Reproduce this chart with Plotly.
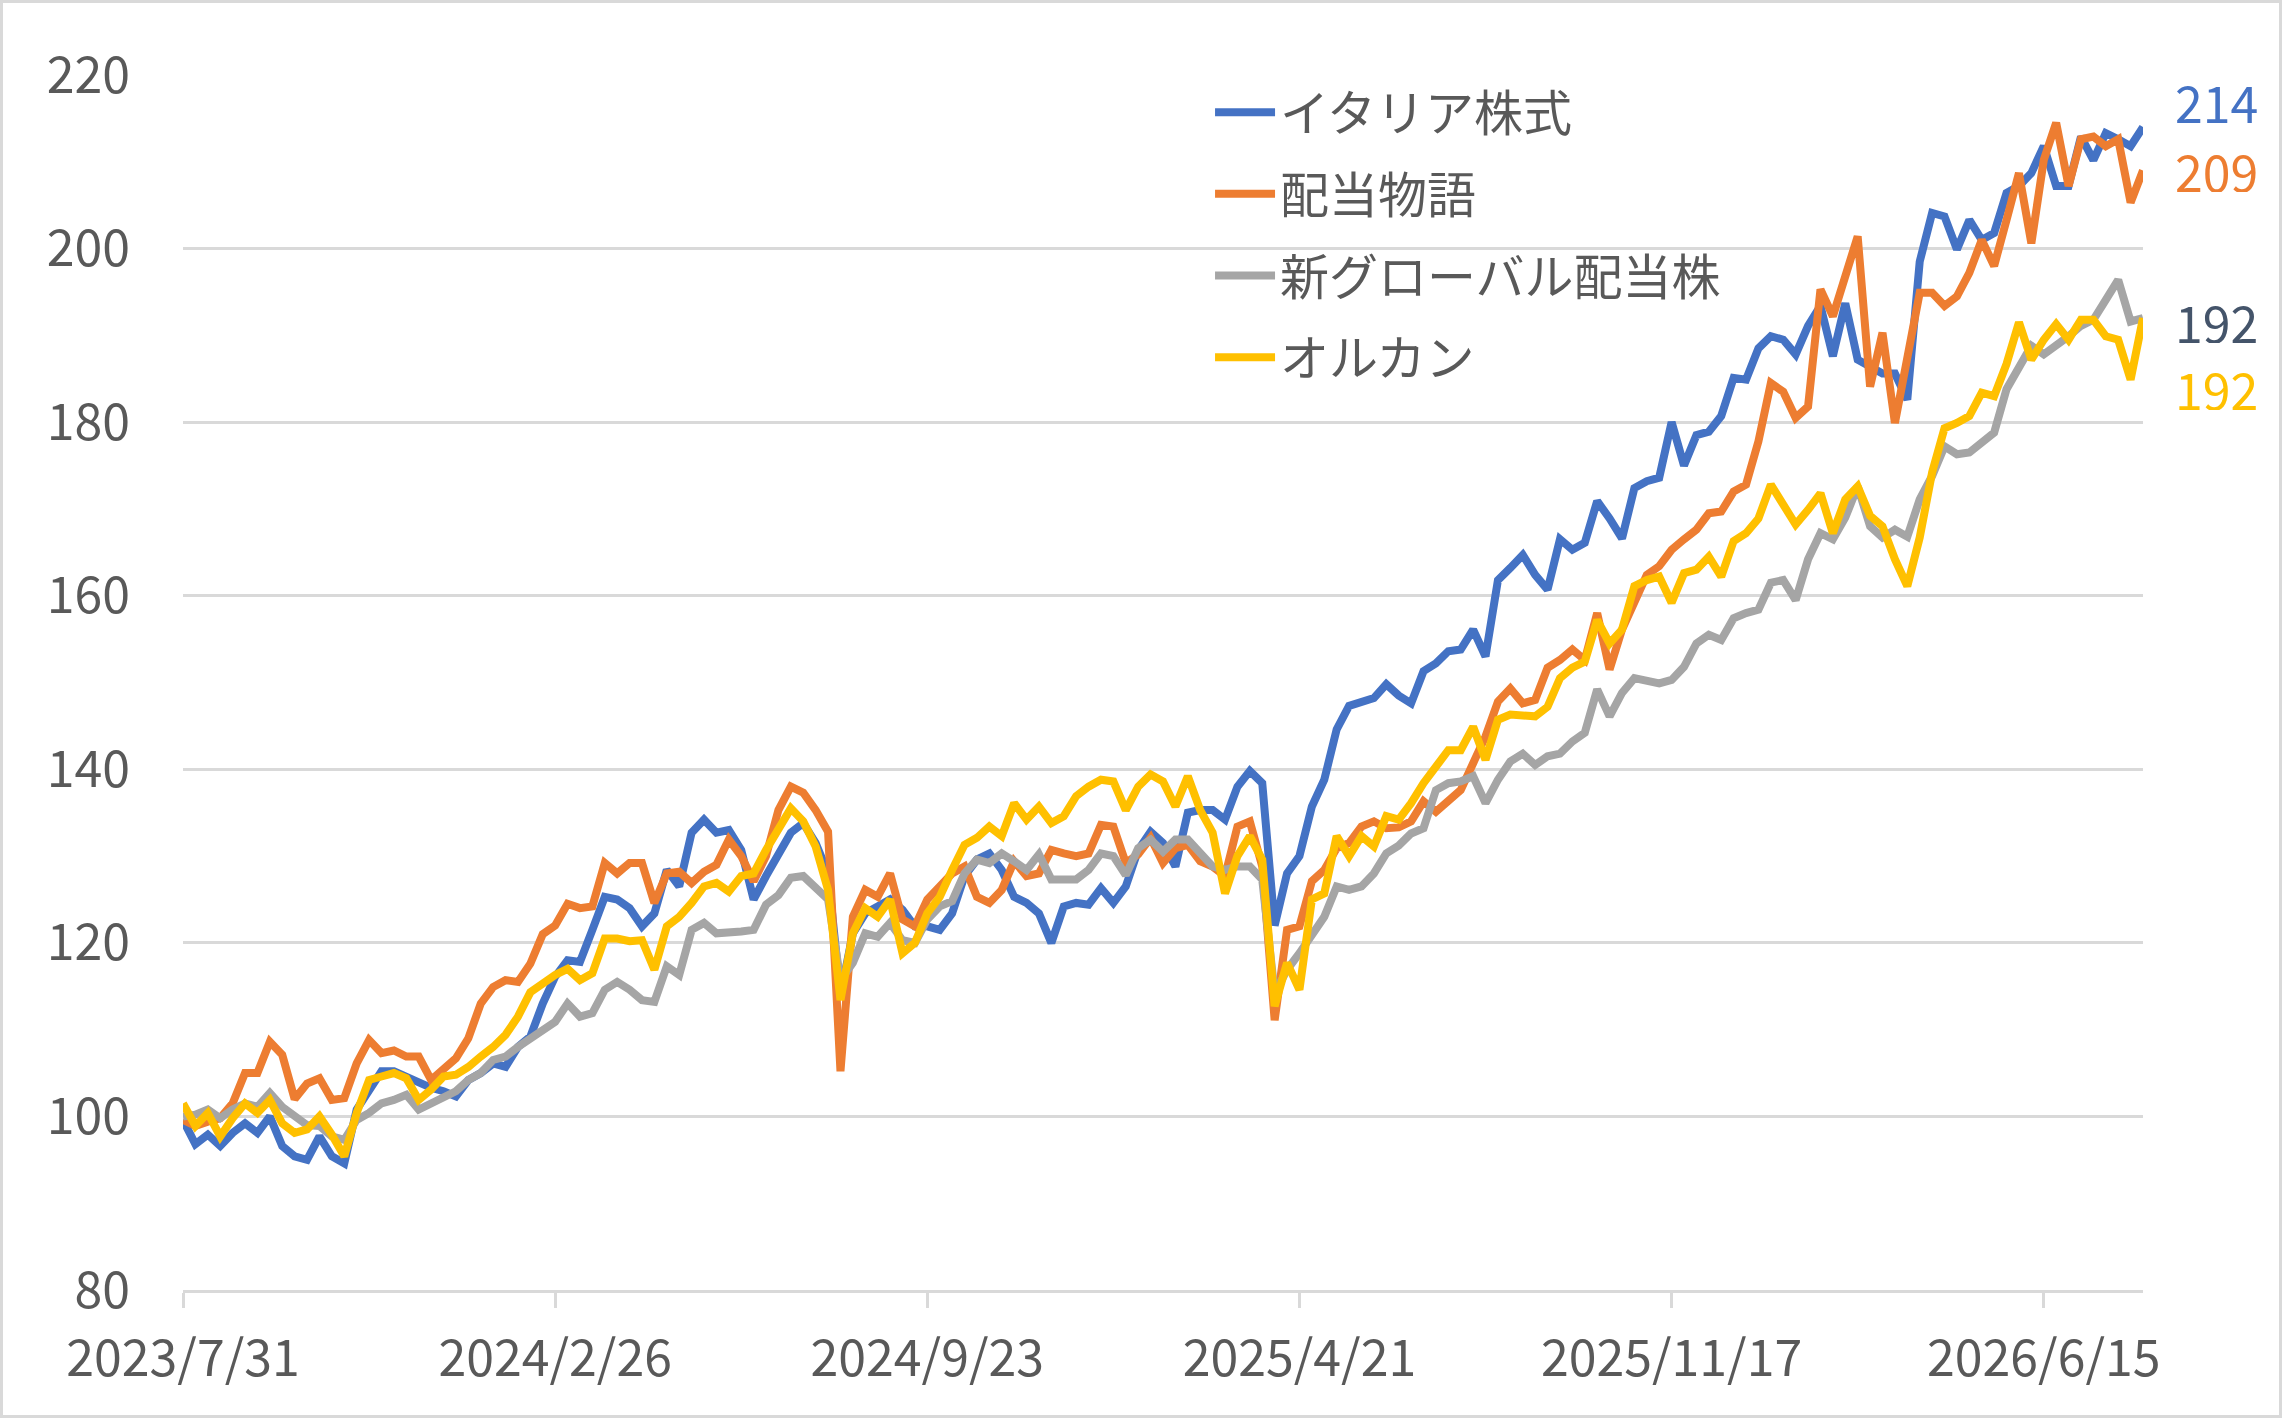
import pandas as pd
import plotly.graph_objects as go

# ---- data (weekly) ----
start_date = "2023-07-31"
n_weeks = 159
dates = pd.date_range(start=start_date, periods=n_weeks, freq="7D")

italy = [
    99.6, 96.8, 97.9, 96.6, 98.1, 99.2, 98.1, 100.0, 96.6, 95.4,
    95.0, 97.7, 95.4, 94.6, 100.8, 103.1, 105.2, 105.2, 104.6, 103.8,
    103.3, 102.9, 102.3, 104.2, 105.0, 106.1, 105.7, 108.0, 109.2, 113.0,
    116.1, 118.0, 117.8,
    121.5, 125.3, 125.0, 124.0, 121.9, 123.4, 128.4, 126.5, 132.7, 134.2,
    132.7, 133.0, 130.7, 125.0, 127.7, 130.0, 132.7, 133.8, 131.5, 128.0,
    114.0, 121.1, 123.4, 124.2, 125.0, 123.8, 121.9, 121.9, 121.5, 123.4, 127.7, 129.6,
    130.3, 128.4, 125.3, 124.6, 123.4, 120.0, 124.2, 124.6, 124.4, 126.3,
    124.6, 126.5, 130.7, 132.8, 131.5, 128.8, 135.0, 135.3, 135.3, 134.2,
    138.0, 139.8, 138.4, 122.0, 128.0, 130.0, 135.7, 138.8, 144.6, 147.3,
    147.7, 148.2, 149.8, 148.5,
    147.6, 151.3, 152.2, 153.6, 153.8, 156.1, 153.0, 161.8, 163.2, 164.7,
    162.4, 160.7, 166.5, 165.3, 166.1, 170.9, 168.9, 166.6, 172.4, 173.2,
    173.6, 180.0, 175.0, 178.5, 178.9, 180.7, 185.1, 184.9, 188.5, 189.9,
    189.5, 187.8,
    191.1, 193.4, 187.6, 193.7, 187.2, 186.4, 185.6, 185.6, 182.6, 198.5,
    204.1, 203.7, 199.9, 203.3, 201.0, 201.8, 206.4, 207.2, 208.7, 211.8,
    207.2, 207.2, 212.9, 210.2, 213.3, 212.6, 211.8, 214.0,
]

haitou = [
    99.6, 98.9, 99.4, 99.8, 101.5, 105.0, 105.0, 108.6, 107.1, 102.0,
    103.8, 104.4, 101.9, 102.1, 106.1, 108.8, 107.3, 107.6, 106.9, 106.9,
    104.2, 105.4, 106.7, 109.0, 113.0, 114.9, 115.7, 115.5, 117.6, 121.0,
    122.0, 124.5, 124.0,
    124.2, 129.2, 128.0, 129.2, 129.2, 124.6, 128.0, 128.2, 126.9, 128.2,
    129.0, 131.9, 130.0, 127.1, 130.0, 135.3, 138.0, 137.3, 135.3, 132.8,
    105.2, 123.0, 126.1, 125.3, 128.0, 122.7, 121.9, 125.0, 126.5, 128.0, 128.8, 125.3,
    124.6, 126.1, 129.4, 127.7, 128.0, 130.7, 130.3, 130.0, 130.3, 133.6,
    133.4, 129.2, 130.2, 132.1, 129.2, 130.9, 131.3, 129.4, 128.8, 127.7,
    133.4, 134.0, 128.8, 111.1, 121.5, 121.9, 127.1, 128.4, 130.9, 131.5,
    133.4, 134.0, 133.2, 133.3,
    134.0, 136.3, 135.1, 136.5, 137.6, 140.7, 143.8, 147.8, 149.3, 147.6,
    148.0, 151.7, 152.6, 153.8, 152.6, 158.0, 151.5, 156.1, 159.5, 162.4,
    163.4, 165.3, 166.5, 167.6, 169.5, 169.7, 172.0, 172.8, 177.8, 184.5,
    183.5, 180.5,
    181.8, 195.3, 192.2, 197.2, 201.4, 184.1, 190.3, 179.9, 187.6, 194.9,
    194.9, 193.4, 194.5, 197.2, 201.0, 198.0, 203.3, 208.7, 200.6, 210.2,
    214.5, 207.2, 212.6, 212.9, 211.8, 212.6, 205.3, 209.0,
]

global_div = [
    100.0, 100.2, 100.8, 99.8, 100.8, 101.5, 101.1, 102.7, 101.1, 100.0,
    99.0, 98.9, 97.7, 97.3, 99.6, 100.4, 101.5, 101.9, 102.5, 100.8,
    101.5, 102.3, 102.9, 104.2, 105.0, 106.5, 106.9, 108.0, 109.0, 109.8,
    110.9, 113.0, 111.5,
    111.9, 114.6, 115.5, 114.6, 113.4, 113.2, 117.3, 116.3, 121.5, 122.3,
    121.1, 121.1, 121.3, 121.5, 124.4, 125.5, 127.5, 127.7, 126.5, 125.0,
    115.7, 117.7, 121.1, 120.7, 122.3, 120.3, 120.0, 122.7, 124.2, 124.8, 128.0, 129.6,
    129.2, 130.3, 129.4, 128.4, 130.2, 127.3, 127.3, 127.3, 128.4, 130.3,
    130.0, 127.8, 130.9, 131.9, 130.5, 131.9, 131.9, 130.3, 128.8, 128.4,
    128.8, 128.8, 127.3, 114.2, 116.9, 118.8, 121.1, 123.0, 126.5, 126.1,
    126.5, 128.0, 130.3, 131.2,
    132.6, 133.2, 137.6, 138.4, 138.6, 139.2, 136.1, 138.8, 140.9, 141.8,
    140.5, 141.5, 141.8, 143.2, 144.2, 149.2, 146.1, 148.8, 150.5, 150.1,
    149.9, 150.3, 151.8, 154.5, 155.5, 154.9, 157.4, 158.0, 158.4, 161.5,
    161.8, 159.5,
    164.2, 167.2, 166.5, 169.0, 172.6, 168.0, 166.7, 167.6, 166.8, 171.1,
    173.8, 177.2, 176.3, 176.5, 177.6, 178.8, 183.8, 186.5, 188.8, 187.8,
    188.8, 189.9, 191.1, 191.8, 194.1, 196.4, 191.6, 192.0,
]

orukan = [
    101.5, 98.9, 100.4, 97.7, 99.8, 101.5, 100.4, 101.9, 99.2, 98.1,
    98.5, 100.0, 97.9, 95.4, 100.4, 104.2, 104.6, 105.0, 104.4, 101.9,
    103.1, 104.6, 104.8, 105.7, 106.9, 108.0, 109.4, 111.5, 114.3, 115.3,
    116.3, 117.0, 115.7,
    116.5, 120.5, 120.5, 120.2, 120.3, 116.9, 121.9, 123.0, 124.6, 126.5,
    126.9, 125.9, 127.7, 128.0, 130.7, 133.0, 135.5, 134.0, 131.1, 126.1,
    113.4, 121.1, 124.0, 123.0, 125.0, 118.8, 120.0, 123.4, 125.3, 128.4, 131.3, 132.1,
    133.4, 132.3, 136.1, 134.2, 135.7, 133.8, 134.6, 136.9, 138.0, 138.8,
    138.6, 135.3, 138.0, 139.4, 138.6, 135.7, 139.2, 135.3, 132.7, 125.7,
    130.0, 132.3, 129.6, 112.7, 117.7, 114.6, 125.0, 125.7, 132.3, 130.0,
    132.3, 131.1, 134.6, 134.2,
    136.1, 138.4, 140.5, 142.2, 142.2, 144.9, 141.1, 145.7, 146.3, 146.1,
    146.1, 147.2, 150.5, 151.7, 152.4, 157.2, 154.5, 156.1, 161.1, 161.8,
    162.2, 159.2, 162.6, 163.0, 164.5, 162.2, 166.3, 167.2, 168.9, 172.8,
    170.5, 168.2,
    169.9, 171.8, 167.2, 171.1, 172.6, 169.2, 168.0, 164.2, 161.1, 166.7,
    174.2, 179.3, 179.9, 180.7, 183.4, 183.0, 186.7, 191.5, 187.2, 189.5,
    191.3, 189.5, 191.8, 191.8, 189.9, 189.5, 184.9, 192.0,
]

series_names = ["イタリア株式", "配当物語", "新グローバル配当株", "オルカン"]
series_values = [italy, haitou, global_div, orukan]
series_colors = ["#4472C4", "#ED7D31", "#A5A5A5", "#FFC000"]

tick_dates = ["2023-07-31", "2024-02-26", "2024-09-23", "2025-04-21", "2025-11-17", "2026-06-15"]
tick_labels = ["2023/7/31", "2024/2/26", "2024/9/23", "2025/4/21", "2025/11/17", "2026/6/15"]

end_labels = ["214", "209", "192", "192"]
end_label_y = [217.0, 209.0, 191.6, 183.9]
end_label_colors = ["#4472C4", "#ED7D31", "#44546A", "#FFC000"]

# ---- figure ----
W, H = 2282, 1418
ML, MR, MT, MB = 183, 139, 75, 128
FONT = "Noto Sans CJK JP"
TEXT = "#595959"
GRID = "#D9D9D9"

fig = go.Figure()
for name, vals, col in zip(series_names, series_values, series_colors):
    fig.add_trace(go.Scatter(
        x=dates, y=vals, name=name, mode="lines", legendgroup=name,
        line=dict(color=col, width=8),
    ))

for txt, yv, col in zip(end_labels, end_label_y, end_label_colors):
    fig.add_annotation(
        x=dates[-1], y=yv, xref="x", yref="y", text=txt, showarrow=False,
        xanchor="left", yanchor="middle", xshift=30, height=44,
        font=dict(family=FONT, size=50, color=col),
    )

# chart-area border
pw, ph = W - ML - MR, H - MT - MB
fig.add_shape(
    type="rect", xref="paper", yref="paper",
    x0=(1.5 - ML) / pw, x1=(W - 1.5 - ML) / pw,
    y0=-(H - 1.5 - MT - ph) / ph, y1=1 + (MT - 1.5) / ph,
    line=dict(color=GRID, width=3), fillcolor="rgba(0,0,0,0)", layer="below",
)

fig.update_layout(
    width=W, height=H,
    margin=dict(l=ML, r=MR, t=MT, b=MB, pad=0),
    paper_bgcolor="white", plot_bgcolor="white",
    font=dict(family=FONT, size=49, color=TEXT),
    showlegend=True,
    legend=dict(
        x=0.524, y=1.001, xanchor="left", yanchor="top",
        bgcolor="rgba(0,0,0,0)", font=dict(family=FONT, size=49, color=TEXT),
        itemwidth=60, tracegroupgap=15,
    ),
    xaxis=dict(
        type="date",
        range=[dates[0], dates[-1]],
        tickmode="array", tickvals=tick_dates, ticktext=tick_labels,
        showgrid=False, zeroline=False,
        showline=True, linecolor=GRID, linewidth=2.5,
        ticks="outside", ticklen=15, tickwidth=2.5, tickcolor=GRID,
        ticklabelstandoff=8,
        tickfont=dict(family=FONT, size=50, color=TEXT),
    ),
    yaxis=dict(
        range=[80, 220], dtick=20, tick0=80,
        showgrid=True, gridcolor=GRID, gridwidth=2.5,
        zeroline=False, showline=False, ticks="",
        ticklabelstandoff=52,
        tickfont=dict(family=FONT, size=50, color=TEXT),
    ),
)

fig.write_html(
    "out.html",
    config={"displayModeBar": False, "responsive": False},
    post_script="document.body.style.margin='0px';document.body.style.overflow='hidden';",
)
